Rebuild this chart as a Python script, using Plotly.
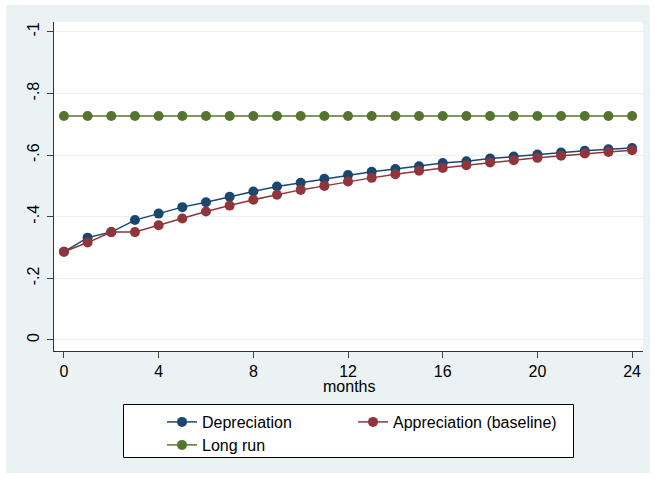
import plotly.graph_objects as go

months = list(range(25))
depreciation = [-0.286, -0.332, -0.350, -0.389, -0.410, -0.431, -0.447, -0.465, -0.482,
                -0.498, -0.510, -0.523, -0.535, -0.546, -0.555, -0.564, -0.574, -0.580,
                -0.589, -0.595, -0.602, -0.608, -0.614, -0.619, -0.623]
appreciation = [-0.286, -0.316, -0.350, -0.350, -0.372, -0.394, -0.417, -0.436, -0.455,
                -0.471, -0.487, -0.500, -0.514, -0.526, -0.538, -0.549, -0.558, -0.567,
                -0.576, -0.583, -0.591, -0.598, -0.605, -0.610, -0.616]
long_run = [-0.727] * 25

y_tickvals = [0, -0.2, -0.4, -0.6, -0.8, -1]
y_ticktext = ["0", "-.2", "-.4", "-.6", "-.8", "-1"]
x_tickvals = [0, 4, 8, 12, 16, 20, 24]
x_title = "months"

navy = "#1a476f"
maroon = "#90353b"
green = "#55752f"
bg = "#eaf2f3"

fig = go.Figure()
for name, ys, col, lg in [("Depreciation", depreciation, navy, "legend"),
                          ("Appreciation (baseline)", appreciation, maroon, "legend3"),
                          ("Long run", long_run, green, "legend2")]:
    fig.add_trace(go.Scatter(x=months, y=ys, name=name, mode="lines+markers",
                             line=dict(color=col, width=1.5), legend=lg,
                             marker=dict(color=col, size=10, symbol="circle")))

W, H = 655, 478
L, R, T, B = 54, 12, 22, 127
pw, ph = W - L - R, H - T - B

def px(x):
    return (x - L) / pw

def py(y):
    return (H - B - y) / ph

fig.add_shape(type="rect", xref="paper", yref="paper", layer="below",
              x0=px(6), x1=px(650), y0=py(473), y1=py(5),
              fillcolor=bg, line=dict(width=0))
fig.add_shape(type="rect", xref="paper", yref="paper", layer="below",
              x0=0, x1=1, y0=0, y1=1, fillcolor="white", line=dict(width=0))
# legend box
fig.add_shape(type="rect", xref="paper", yref="paper", layer="above",
              x0=px(123.5), x1=px(573.5), y0=py(457.5), y1=py(404.5),
              fillcolor="white", line=dict(color="black", width=1))

fig.add_annotation(text=x_title, xref="paper", yref="paper", x=0.5, y=py(386),
                   xanchor="center", yanchor="middle", showarrow=False,
                   font=dict(size=16))

leg_common = dict(orientation="h", xref="container", yref="container",
                  xanchor="left", yanchor="top", bgcolor="rgba(0,0,0,0)",
                  borderwidth=0, font=dict(size=16))

fig.update_layout(
    width=W, height=H,
    margin=dict(l=L, r=R, t=T, b=B),
    paper_bgcolor="white", plot_bgcolor="white",
    font=dict(family="Liberation Sans, Arial, sans-serif", size=16, color="black"),
    showlegend=True,
    legend=dict(x=162 / W, y=1 - 405 / H, **leg_common),
    legend3=dict(x=353 / W, y=1 - 405 / H, **leg_common),
    legend2=dict(x=162 / W, y=1 - 428 / H, **leg_common),
    xaxis=dict(range=[-0.42, 24.46], tickvals=x_tickvals, ticks="outside", ticklen=6,
               showgrid=False, zeroline=False, showline=True, linecolor="#333333",
               linewidth=1, automargin=False, tickfont=dict(size=16)),
    yaxis=dict(range=[0.036, -1.032], tickvals=y_tickvals, ticktext=y_ticktext,
               ticks="outside", ticklen=6, tickangle=-90, automargin=False,
               ticklabelstandoff=2,
               showgrid=True, gridcolor=bg, gridwidth=1, zeroline=False,
               showline=True, linecolor="#333333", linewidth=1,
               tickfont=dict(size=16)),
)

fig.write_html("out.html", config={"displayModeBar": False},
               post_script="document.body.style.margin='0px';")
